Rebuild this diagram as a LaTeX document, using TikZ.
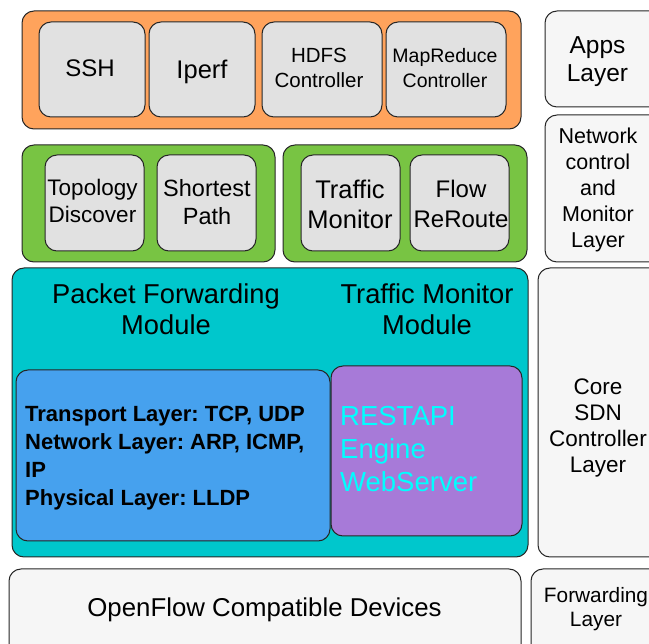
\documentclass[tikz,border=0pt]{standalone}
\usepackage{fontspec}
\setmainfont{Liberation Sans}
\frenchspacing
\usetikzlibrary{fit}

\definecolor{appsorange}{HTML}{FFA35C}
\definecolor{ctrlgreen}{HTML}{78C443}
\definecolor{corecyan}{HTML}{00C7CC}
\definecolor{pktblue}{HTML}{46A1EE}
\definecolor{restpurple}{HTML}{A77AD8}
\definecolor{modgray}{HTML}{E1E1E1}
\definecolor{layergray}{HTML}{F6F6F6}
\definecolor{resttext}{HTML}{00FFFF}

\tikzset{
  panel/.style={draw=black!85, line width=1pt, rounded corners=12pt, inner sep=0pt},
  modbox/.style={panel, fill=modgray},
  layerbox/.style={panel, fill=layergray},
  lbl/.style={inner sep=0pt, align=center, text=black},
}
\newcommand{\fs}[2]{\fontsize{#1}{#2}\selectfont}

\begin{document}
\begin{tikzpicture}[x=1pt,y=-1pt]
\useasboundingbox (0,0) rectangle (649,644);

% ---- application layer ----
\node[panel, fill=appsorange, fit={(22,11) (521,129)}] (apps) {};
\node[modbox, fit={(39,22) (145,117)}] (ssh) {};
\node[modbox, fit={(149,22) (255,117)}] (iperf) {};
\node[modbox, fit={(262,22) (382,117)}] (hdfs) {};
\node[modbox, fit={(386,22) (506,117)}] (mapred) {};
\node[lbl, anchor=base, font=\fs{24}{28}] (sshT) at (90,77) {SSH};
\node[lbl, anchor=base, font=\fs{25.5}{29}] (iperfT) at (202,79) {Iperf};
\node[lbl, font=\fs{20.5}{25}] (hdfsT) at (319,68) {HDFS\\Controller};
\node[lbl, font=\fs{19.5}{25}] (mapredT) at (445,68) {MapReduce\\Controller};

% ---- network control and monitor layer ----
\node[panel, fill=ctrlgreen, fit={(22,145) (275,262)}] (netL) {};
\node[modbox, fit={(45,155) (144,251)}] (topo) {};
\node[modbox, fit={(157,155) (256,251)}] (spath) {};
\node[panel, fill=ctrlgreen, fit={(283,145) (527,262)}] (netR) {};
\node[modbox, fit={(301,155) (400,251)}] (tmon) {};
\node[modbox, fit={(410,155) (509,251)}] (reroute) {};
\node[lbl, font=\fs{22.5}{27}] (topoT) at (92.5,201) {Topology\\Discover};
\node[lbl, font=\fs{23.5}{28}] (spathT) at (207,202) {Shortest\\Path};
\node[lbl, font=\fs{25.5}{30}] (tmonT) at (350,204) {Traffic\\Monitor};
\node[lbl, font=\fs{24}{30}] (rerouteT) at (461,204) {Flow\\ReRoute};

% ---- core SDN controller ----
\node[panel, fill=corecyan, fit={(12,268) (528,557)}] (core) {};
\node[lbl, font=\fs{27.3}{31}] (pfwdT) at (166,309) {Packet Forwarding\\Module};
\node[lbl, font=\fs{27.3}{31}] (tmmT) at (427,309) {Traffic Monitor\\Module};
\node[panel, fill=pktblue, fit={(16,370) (330,541)}] (proto) {};
\node[inner sep=0pt, align=left, anchor=west, font=\fs{22}{28}\bfseries] (protoT) at (25,458)
  {Transport Layer: TCP, UDP\\Network Layer: ARP, ICMP,\\IP\\Physical Layer: LLDP};
\node[panel, fill=restpurple, fit={(331,366) (522,536)}] (rest) {};
\node[inner sep=0pt, align=left, anchor=west, text=resttext, font=\fs{27.5}{33}] (restT) at (340,449)
  {RESTAPI\\Engine\\WebServer};

% ---- devices ----
\node[layerbox, fit={(9,569) (521,660)}] (devices) {};
\node[lbl, anchor=base, font=\fs{25.8}{30}] (devicesT) at (264.5,617) {OpenFlow Compatible Devices};

% ---- layer labels column ----
\node[layerbox, fit={(545,11) (665,107)}] (lapps) {};
\node[layerbox, fit={(545,115) (665,262)}] (lnet) {};
\node[layerbox, fit={(538,268) (665,557)}] (lcore) {};
\node[layerbox, fit={(531,569) (665,660)}] (lfwd) {};
\node[lbl, font=\fs{24.5}{28}] (lappsT) at (597.5,62) {Apps\\Layer};
\node[lbl, font=\fs{21.5}{26.2}] (lnetT) at (598,190) {Network\\control\\and\\Monitor\\Layer};
\node[lbl, font=\fs{22.5}{26}] (lcoreT) at (598,428) {Core\\SDN\\Controller\\Layer};
\node[lbl, font=\fs{20.8}{24}] (lfwdT) at (596,609) {Forwarding\\Layer};
\end{tikzpicture}
\end{document}
